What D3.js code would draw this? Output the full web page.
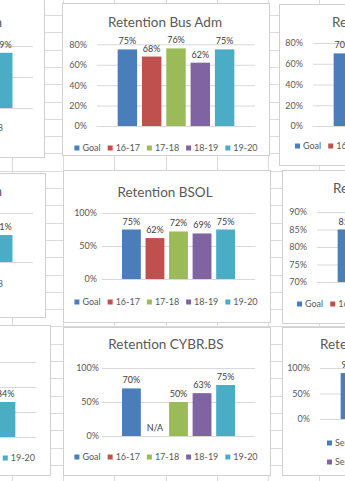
<!DOCTYPE html>
<html>
<head>
<meta charset="utf-8">
<title>Retention by program</title>
<script src="https://cdn.jsdelivr.net/npm/d3@7"></script>
<style>
body { margin: 0; background: #fff; overflow: hidden; }
svg { display: block; }
text { font-family: Lato, "Open Sans", sans-serif; fill: #595959; }
.title { font-size: 13.5px; }
.tick text { font-size: 9px; }
.lbl { font-size: 9px; fill: #404040; }
.leg { font-size: 9px; }
</style>
</head>
<body>
<script>
// series and colours shared by every retention chart
var series = ["Goal", "16-17", "17-18", "18-19", "19-20"];
var genericSeries = ["Series1", "Series2", "Series3", "Series4", "Series5"];
var colors = ["#4a7ebb", "#c0504d", "#9bbb59", "#8064a2", "#4bacc6"];

// retention rates (null = not shown / not available)
var busAdm = [0.75, 0.68, 0.76, 0.62, 0.75];
var bsol = [0.75, 0.62, 0.72, 0.69, 0.75];
var cybr = [0.70, null, 0.50, 0.63, 0.75];
var leftTop = [null, null, null, null, 0.89];
var leftMid = [null, null, null, null, 0.91];
var leftBot = [null, null, null, null, 0.84];
var rightTop = [0.70, null, null, null, null];
var rightMid = [0.85, null, null, null, null];
var rightBot = [0.90, null, null, null, null];

var width = 345, height = 481;

var svg = d3.select("body").append("svg")
  .attr("width", width)
  .attr("height", height);

// worksheet cell grid behind the charts
var grid = svg.append("g").attr("stroke", "#dadada").attr("stroke-width", 1);
d3.range(0, 8).forEach(function(k) {
  var x = Math.round(12 + 51.2 * k) + 0.5;
  grid.append("line").attr("x1", x).attr("x2", x).attr("y1", 0).attr("y2", height);
});
d3.range(-1, 28).forEach(function(k) {
  var y = Math.round(15 + 17.3 * k) + 0.5;
  grid.append("line").attr("x1", 0).attr("x2", width).attr("y1", y).attr("y2", y);
});

var pct = d3.format(".0%");

var panels = [
  { box: [-166, -4, 210, 161], title: "Retention", tx: 2, ty: 27, anchor: "end",
    plot: [-124, 33, 46, 108], domain: [0, 1], step: 0.5, gap: 10, values: leftTop,
    legend: { y: 128, x1: 3, rows: [[0, 1, 2], [3, 4]] } },
  { box: [62, 3, 207, 152], title: "Retention Bus Adm", tx: 165, ty: 27, anchor: "middle",
    plot: [97, 255, 44.3, 126], domain: [0, 0.8], step: 0.2, gap: 10, values: busAdm,
    legend: { y: 148, cx: 166 } },
  { box: [279, 4, 210, 161], title: "Retention", tx: 332, ty: 27, anchor: "start",
    plot: [313, 471, 43, 126], domain: [0, 0.8], step: 0.2, gap: 10, values: rightTop,
    legend: { y: 146, x: 295 } },
  { box: [-165, 173, 210, 144], title: "Retention", tx: 2, ty: 196, anchor: "end",
    plot: [-124, 33, 213, 262], domain: [0.8, 1], step: 0.2, gap: 10, values: leftMid,
    legend: { y: 284, x1: 3, rows: [[0, 1, 2], [3, 4]] } },
  { box: [63, 170, 207, 152], title: "Retention BSOL", tx: 165, ty: 197, anchor: "middle",
    plot: [102, 255, 213, 279], domain: [0, 1], step: 0.5, gap: 5, values: bsol,
    legend: { y: 302, cx: 166 } },
  { box: [282, 170, 210, 153], title: "Retention", tx: 333, ty: 193, anchor: "start",
    plot: [317, 475, 212, 282], domain: [0.7, 0.9], step: 0.05, gap: 10, values: rightMid,
    legend: { y: 304, x: 297 } },
  { box: [-160, 325, 210, 150], title: "Retention", tx: -4, ty: 349, anchor: "end",
    plot: [-122, 36, 362, 437], domain: [0.7, 1], step: 0.1, gap: 10, values: leftBot,
    legend: { y: 458, x1: 35 } },
  { box: [63, 327, 207, 148], title: "Retention CYBR.BS", tx: 166, ty: 349, anchor: "middle",
    plot: [102, 255, 368, 436], domain: [0, 1], step: 0.5, gap: 3, values: cybr, na: true,
    legend: { y: 457, cx: 166 } },
  { box: [282, 327, 210, 148], title: "Retention", tx: 320, ty: 349, anchor: "start",
    plot: [320, 478, 368, 419], domain: [0, 1], step: 0.5, gap: 10, values: rightBot,
    legend: { y: 443, x: 327, rows: [[0, 1, 2], [3, 4]], colW: 45, rowH: 19, names: genericSeries } }
];

panels.forEach(drawPanel);

function drawPanel(p) {
  var g = svg.append("g");

  g.append("rect")
    .attr("x", p.box[0] + 0.5).attr("y", p.box[1] + 0.5)
    .attr("width", p.box[2]).attr("height", p.box[3])
    .attr("fill", "#fff").attr("stroke", "#d0d0d0");

  g.append("text").attr("class", "title")
    .attr("x", p.tx).attr("y", p.ty)
    .attr("text-anchor", p.anchor)
    .text(p.title);

  var x = d3.scaleBand().domain(series)
    .range([p.plot[0], p.plot[1]])
    .paddingInner(0.2).paddingOuter(0.85);
  var y = d3.scaleLinear().domain(p.domain).range([p.plot[3], p.plot[2]]);

  var n = Math.round((p.domain[1] - p.domain[0]) / p.step);
  var ticks = d3.range(n + 1).map(function(i) { return p.domain[0] + i * p.step; });

  g.append("g")
    .attr("transform", "translate(" + p.plot[0] + ",0)")
    .call(d3.axisLeft(y).tickValues(ticks).tickFormat(pct)
      .tickSize(-(p.plot[1] - p.plot[0])).tickPadding(p.gap))
    .call(function(s) { s.select(".domain").remove(); })
    .call(function(s) { s.selectAll(".tick line").attr("stroke", "#d9d9d9"); });

  var rows = p.values.map(function(v, i) { return { v: v, s: series[i], i: i }; });

  g.selectAll("rect.bar")
    .data(rows.filter(function(d) { return d.v != null; }))
    .join("rect").attr("class", "bar")
    .attr("x", function(d) { return x(d.s); })
    .attr("width", x.bandwidth())
    .attr("y", function(d) { return y(d.v); })
    .attr("height", function(d) { return y(p.domain[0]) - y(d.v); })
    .attr("fill", function(d) { return colors[d.i]; });

  g.selectAll("text.lbl")
    .data(rows.filter(function(d) { return d.v != null || p.na; }))
    .join("text").attr("class", "lbl")
    .attr("x", function(d) { return x(d.s) + x.bandwidth() / 2; })
    .attr("y", function(d) { return y(d.v == null ? p.domain[0] : d.v) - 5; })
    .attr("text-anchor", "middle")
    .text(function(d) { return d.v == null ? "N/A" : pct(d.v); });

  drawLegend(g, p.legend);
}

// legend rows; the first row sets the alignment, later rows share its centre
function drawLegend(g, L) {
  var names = L.names || series;
  var rows = L.rows || [[0, 1, 2, 3, 4]];
  var sq = 5, gapText = 3, gapItem = 7;
  var center = null;

  rows.forEach(function(row, r) {
    var ly = L.y + r * (L.rowH || 17);
    var items = row.map(function(i) {
      var it = g.append("g");
      it.append("rect").attr("width", sq).attr("height", sq)
        .attr("y", ly - sq / 2).attr("fill", colors[i]);
      var t = it.append("text").attr("class", "leg")
        .attr("x", sq + gapText).attr("y", ly).attr("dy", "0.35em")
        .text(names[i]);
      return { g: it, w: sq + gapText + t.node().getComputedTextLength() };
    });
    var pos = [], cur = 0;
    items.forEach(function(it, k) {
      pos.push(L.colW ? k * L.colW : cur);
      cur += it.w + gapItem;
    });
    var total = L.colW ? (items.length - 1) * L.colW + items[items.length - 1].w : cur - gapItem;
    var start;
    if (L.x != null) start = L.x;
    else if (center != null) start = center - total / 2;
    else if (L.x1 != null) start = L.x1 - total;
    else start = L.cx - total / 2;
    if (center == null) center = start + total / 2;
    items.forEach(function(it, k) {
      it.g.attr("transform", "translate(" + (start + pos[k]) + ",0)");
    });
  });
}
</script>
</body>
</html>
